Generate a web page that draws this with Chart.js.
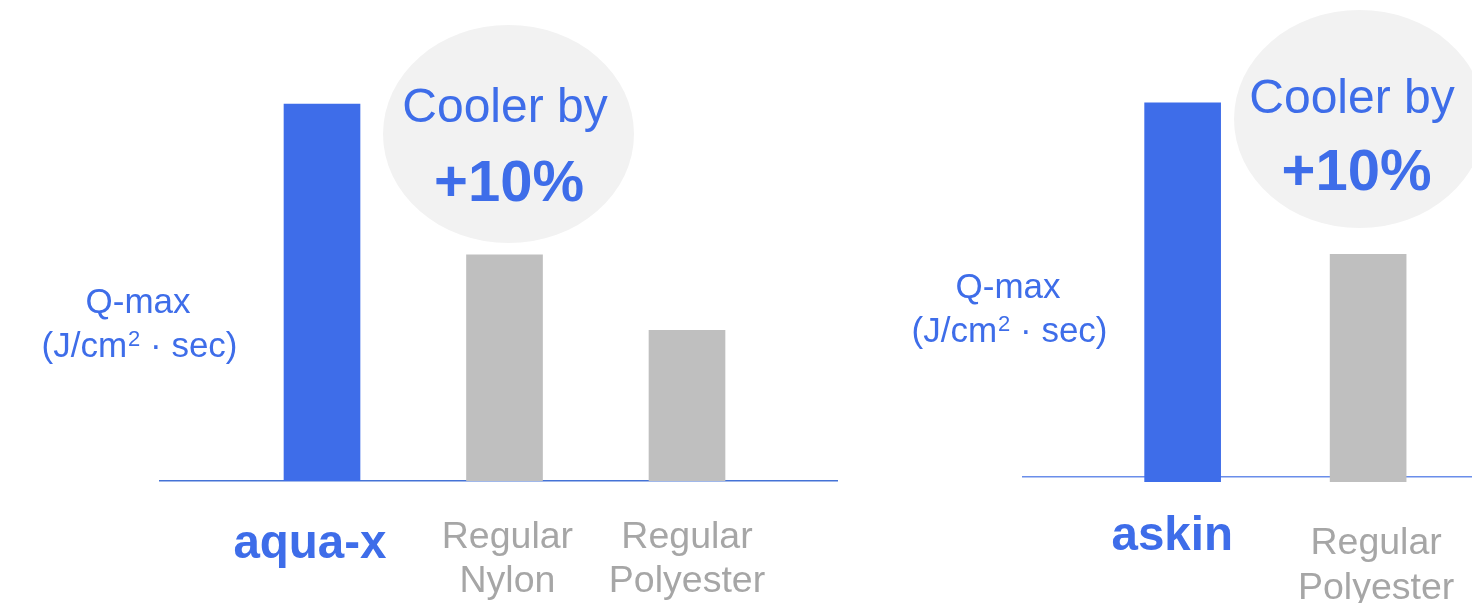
<!DOCTYPE html>
<html>
<head>
<meta charset="utf-8">
<script src="https://cdn.jsdelivr.net/npm/chart.js@4/dist/chart.umd.min.js"></script>
<style>
  html, body { margin: 0; padding: 0; background: #ffffff; width: 1472px; height: 603px; overflow: hidden; }
  #left { position: absolute; left: 0; top: 0; width: 860px; height: 603px; }
  #right { position: absolute; left: 860px; top: 0; width: 612px; height: 603px; }
</style>
</head>
<body>
<div id="left"><canvas id="c1"></canvas></div>
<div id="right"><canvas id="c2"></canvas></div>
<script>
// ---- data ----
const leftCategories = ['aqua-x', 'Regular Nylon', 'Regular Polyester'];
const leftTickLabels = [['aqua-x'], ['Regular', 'Nylon'], ['Regular', 'Polyester']];
const leftValues = [100, 60, 40];

const rightCategories = ['askin', 'Regular Polyester'];
const rightTickLabels = [['askin'], ['Regular', 'Polyester']];
const rightValues = [100, 59.5];

const unitLabel = ['Q-max', '(J/cm', '2', ' · sec)'];
const calloutText = ['Cooler by', '+10%'];

// ---- styles ----
const FONT = '"Liberation Sans", Arial, Helvetica, sans-serif';
const BLUE = '#3e6de9';
const GRAY_BAR = '#bfbfbf';
const GRAY_TEXT = '#a6a6a6';
const BUBBLE = '#f2f2f2';

const decorPlugin = {
  id: 'decor',
  beforeDatasetsDraw(chart) {
    const o = chart.options.plugins.decor;
    if (!o) return;
    const ctx = chart.ctx;
    ctx.save();
    ctx.fillStyle = BUBBLE;
    ctx.beginPath();
    ctx.ellipse(o.ellipse.cx, o.ellipse.cy, o.ellipse.rx, o.ellipse.ry, 0, 0, Math.PI * 2);
    ctx.fill();
    ctx.restore();
  },
  afterDraw(chart) {
    const o = chart.options.plugins.decor;
    if (!o) return;
    const ctx = chart.ctx;
    ctx.save();
    ctx.fillStyle = BLUE;
    ctx.textBaseline = 'alphabetic';
    ctx.textAlign = 'center';
    ctx.font = '48px ' + FONT;
    ctx.fillText(calloutText[0], o.callout.x1, o.callout.y1);
    ctx.font = 'bold 58px ' + FONT;
    ctx.fillText(calloutText[1], o.callout.x2, o.callout.y2);
    ctx.font = '35px ' + FONT;
    ctx.fillText(unitLabel[0], o.unit.x1, o.unit.y1);
    // second line with a superscript "2"
    const fBig = '35px ' + FONT, fSup = '22px ' + FONT;
    ctx.font = fBig;
    const wA = ctx.measureText(unitLabel[1]).width;
    const wC = ctx.measureText(unitLabel[3]).width;
    ctx.font = fSup;
    const wB = ctx.measureText(unitLabel[2]).width + 1;
    const total = wA + wB + wC;
    let x = o.unit.x2 - total / 2;
    ctx.textAlign = 'left';
    ctx.font = fBig;
    ctx.fillText(unitLabel[1], x, o.unit.y2);
    x += wA + 1;
    ctx.font = fSup;
    ctx.fillText(unitLabel[2], x, o.unit.y2 - 11);
    x += wB - 1;
    ctx.font = fBig;
    ctx.fillText(unitLabel[3], x, o.unit.y2);
    ctx.restore();
  }
};

function makeChart(el, cats, labels, values, cfg) {
  return new Chart(el, {
    type: 'bar',
    data: {
      datasets: [{
        label: 'Q-max',
        data: values.map((v, i) => ({ x: i, y: v })),
        backgroundColor: values.map((v, i) => i === 0 ? BLUE : GRAY_BAR),
        borderWidth: 0,
        barThickness: 76,
        base: cfg.base
      }]
    },
    options: {
      responsive: true,
      maintainAspectRatio: false,
      animation: false,
      events: [],
      layout: { padding: { left: cfg.padLeft, right: cfg.padRight, top: 0, bottom: 0 } },
      plugins: {
        legend: { display: false },
        tooltip: { enabled: false },
        decor: cfg.decor
      },
      scales: {
        x: {
          type: 'linear',
          offset: false,
          min: cfg.xMin,
          max: cfg.xMax,
          grid: { display: false, offset: false },
          border: cfg.xBorder,
          // label anchors: category index plus a small typographic nudge
          afterBuildTicks: (s) => { s.ticks = cats.map((c, i) => ({ value: i + cfg.labelNudge[i] })); },
          afterFit: (s) => { s.height = cfg.axisHeight; s.paddingLeft = 0; s.paddingRight = 0; },
          ticks: {
            autoSkip: false,
            maxRotation: 0,
            minRotation: 0,
            padding: cfg.labelPad,
            callback: (v, i) => labels[i],
            font: (ctx) => ctx.index === 0
              ? { family: FONT, size: 47.5, weight: 'bold', lineHeight: cfg.firstLineHeight }
              : { family: FONT, size: 37.5, weight: 'normal', lineHeight: cfg.lineHeight },
            color: (ctx) => ctx.index === 0 ? BLUE : GRAY_TEXT
          }
        },
        y: cfg.y
      }
    },
    plugins: [decorPlugin]
  });
}

makeChart(document.getElementById('c1'), leftCategories, leftTickLabels, leftValues, {
  padLeft: 160, padRight: 23,
  xMin: -0.8877, xMax: 2.8219,
  axisHeight: 122,
  labelPad: 27,
  firstLineHeight: 1.2,
  lineHeight: 1.16,
  labelNudge: [-0.066, 0.016, 0],
  xBorder: { display: true, color: '#4472d6', width: 1.5 },
  y: { display: false, min: 0, max: 127.6 },
  decor: {
    ellipse: { cx: 508.5, cy: 134, rx: 125.5, ry: 109 },
    callout: { x1: 505, y1: 122, x2: 509, y2: 201 },
    unit: { x1: 138, y1: 313, x2: 139.5, y2: 357 }
  }
});

makeChart(document.getElementById('c2'), rightCategories, rightTickLabels, rightValues, {
  padLeft: 162, padRight: 0,
  xMin: -0.866, xMax: 1.56,
  axisHeight: 121,
  labelPad: 31,
  firstLineHeight: 0.68,
  lineHeight: 1.2,
  labelNudge: [-0.056, 0.043],
  base: -1.34,
  xBorder: { display: false },
  y: {
    display: true, min: -1.34, max: 127.5, z: 1,
    ticks: { display: false },
    border: { display: false },
    afterBuildTicks: (s) => { s.ticks = [{ value: 0 }]; },
    afterFit: (s) => { s.width = 0; },
    grid: {
      drawTicks: false,
      lineWidth: 1.5,
      color: (ctx) => ctx.tick && ctx.tick.value === 0 ? '#6a8eea' : 'rgba(0,0,0,0)'
    }
  },
  decor: {
    ellipse: { cx: 499.5, cy: 119, rx: 125.5, ry: 109 },
    callout: { x1: 492, y1: 112.5, x2: 496.5, y2: 189.5 },
    unit: { x1: 148, y1: 298, x2: 149.5, y2: 342 }
  }
});
</script>
</body>
</html>
